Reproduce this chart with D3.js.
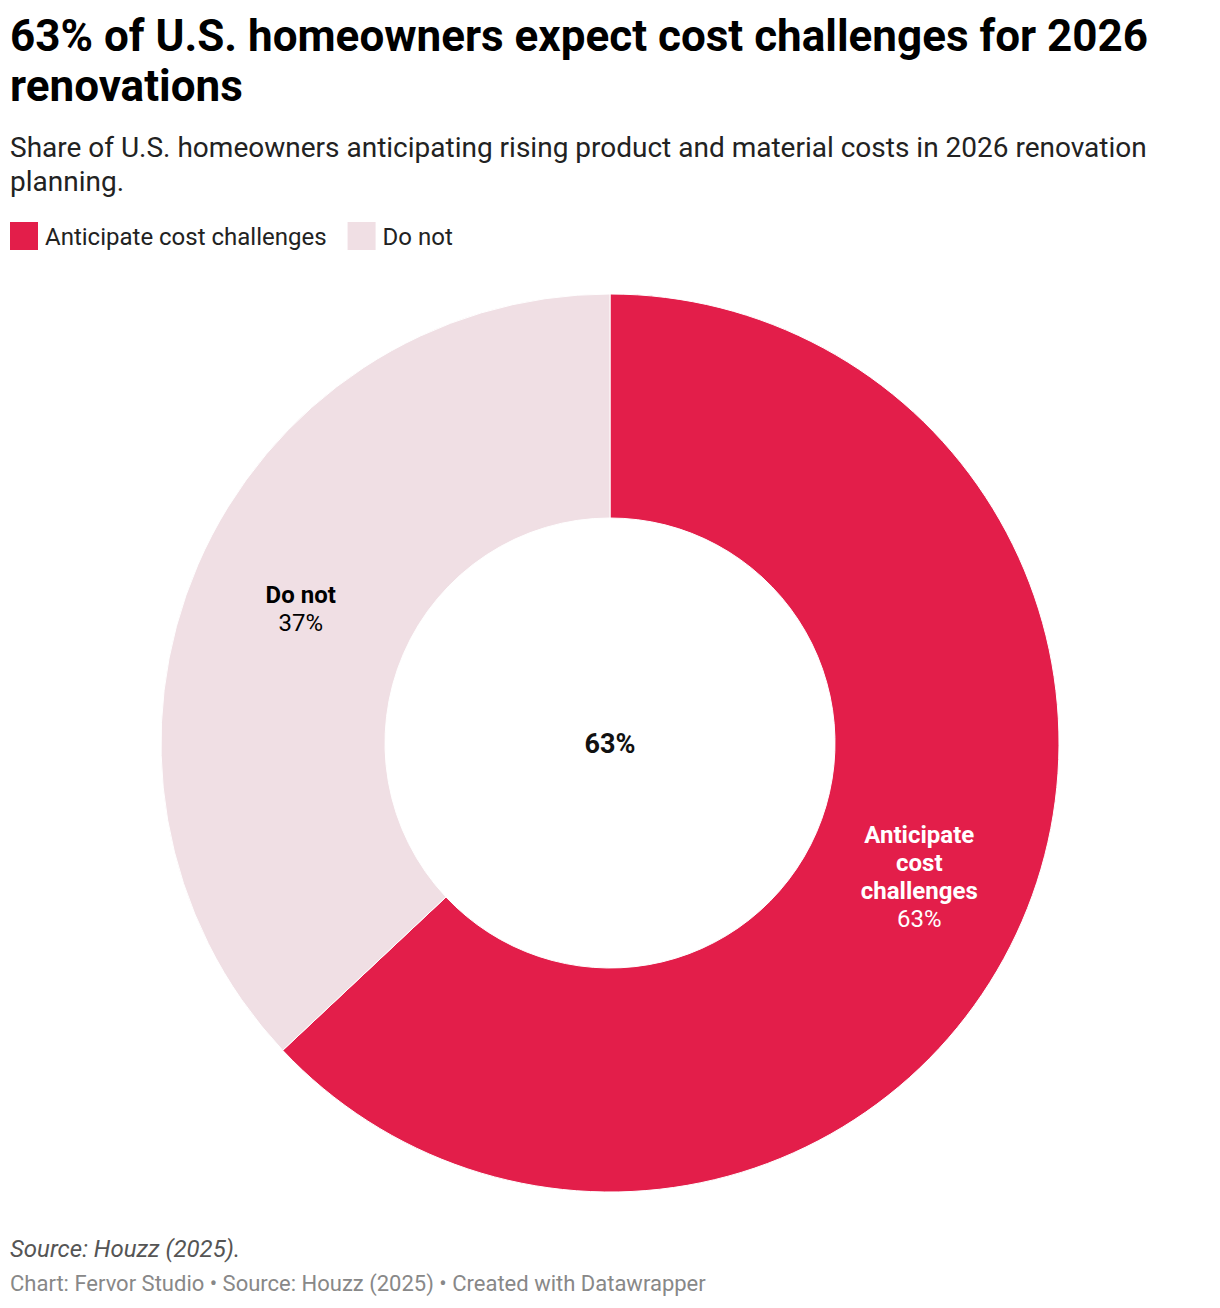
<!DOCTYPE html>
<html>
<head>
<meta charset="utf-8">
<script src="https://cdn.jsdelivr.net/npm/d3@7"></script>
<style>
  body { margin: 0; background: #fff; font-family: Roboto, "Noto Sans", sans-serif; }
</style>
</head>
<body>
<script>
var categories = ["Anticipate cost challenges", "Do not"]
var values = [63, 37]
var labelLines = [["Anticipate", "cost", "challenges"], ["Do not"]]
var colors = ["#e31e4a", "#f0dfe4"]

var W = 1220, H = 1308
var svg = d3.select("body").append("svg")
    .attr("width", W)
    .attr("height", H)

// title + subtitle
svg.append("text").attr("x", 10).attr("y", 51)
    .style("font-size", "44px").style("font-weight", 700).attr("fill", "#000")
    .text("63% of U.S. homeowners expect cost challenges for 2026")
svg.append("text").attr("x", 10).attr("y", 101)
    .style("font-size", "44px").style("font-weight", 700).attr("fill", "#000")
    .text("renovations")
svg.append("text").attr("x", 10).attr("y", 157)
    .style("font-size", "28px").attr("fill", "#222")
    .text("Share of U.S. homeowners anticipating rising product and material costs in 2026 renovation")
svg.append("text").attr("x", 10).attr("y", 191)
    .style("font-size", "28px").attr("fill", "#222")
    .text("planning.")

// legend
var lx = 10
categories.forEach(function (c, i) {
  svg.append("rect").attr("x", lx).attr("y", 222).attr("width", 28).attr("height", 28)
      .attr("fill", colors[i])
  var t = svg.append("text").attr("x", lx + 35).attr("y", 245)
      .style("font-size", "24px").attr("fill", "#222").text(c)
  lx += 35 + t.node().getComputedTextLength() + 21
})

// donut
var cx = 610, cy = 743, R = 449, r0 = 225
var g = svg.append("g").attr("transform", "translate(" + cx + "," + cy + ")")
var pie = d3.pie().sort(null).value(function (d) { return d })
var arc = d3.arc().innerRadius(r0).outerRadius(R)
var arcs = pie(values)

g.selectAll("path").data(arcs).enter().append("path")
    .attr("d", arc)
    .attr("fill", function (d, i) { return colors[i] })
    .attr("stroke", "#fff").attr("stroke-width", 1)

arcs.forEach(function (a, i) {
  var c = arc.centroid(a)
  var lines = labelLines[i]
  var lh = 28
  var n = lines.length + 1
  var y0 = c[1] - (n - 1) * lh / 2 + 8
  var col = i === 0 ? "#fff" : "#000"
  lines.forEach(function (l, k) {
    g.append("text").attr("x", c[0]).attr("y", y0 + k * lh)
        .attr("text-anchor", "middle").style("font-size", "24px").style("font-weight", 700)
        .attr("fill", col).text(l)
  })
  g.append("text").attr("x", c[0]).attr("y", y0 + lines.length * lh)
      .attr("text-anchor", "middle").style("font-size", "24px")
      .attr("fill", col).text(values[i] + "%")
})

g.append("text").attr("x", 0).attr("y", 10).attr("text-anchor", "middle")
    .style("font-size", "27px").style("font-weight", 700).attr("fill", "#111")
    .text(values[0] + "%")

// footer
svg.append("text").attr("x", 10).attr("y", 1257)
    .style("font-size", "24px").style("font-style", "italic").attr("fill", "#555")
    .text("Source: Houzz (2025).")
svg.append("text").attr("x", 10).attr("y", 1291)
    .style("font-size", "22px").attr("fill", "#888")
    .text("Chart: Fervor Studio \u2022 Source: Houzz (2025) \u2022 Created with Datawrapper")
</script>
</body>
</html>
